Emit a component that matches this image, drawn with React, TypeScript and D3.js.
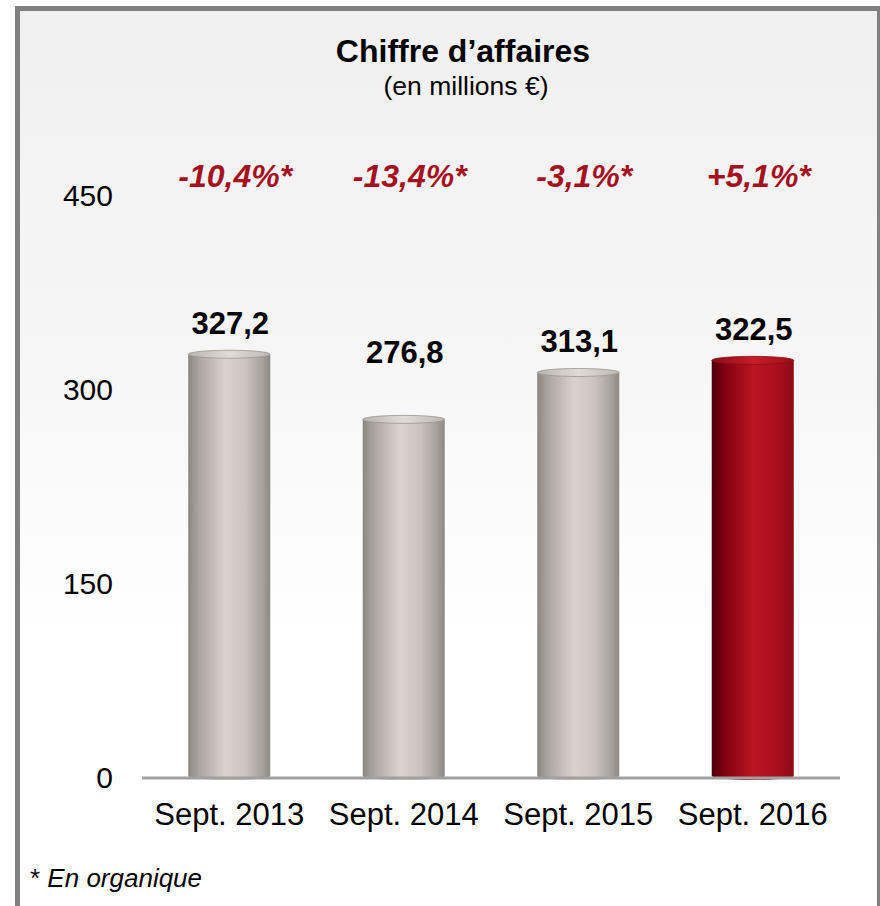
import React from "react";
import * as d3 from "d3";

const categories = ["Sept. 2013", "Sept. 2014", "Sept. 2015", "Sept. 2016"];
const values = [327.2, 276.8, 313.1, 322.5];
const valueLabels = ["327,2", "276,8", "313,1", "322,5"];
const growthLabels = ["-10,4%*", "-13,4%*", "-3,1%*", "+5,1%*"];
const yTicks = [0, 150, 300, 450];

const W = 880;
const H = 906;
const FONT = "'Liberation Sans', Arial, Helvetica, sans-serif";

export default function App() {
  const x = d3.scaleBand<string>().domain(categories).range([142, 840]).paddingInner(0.53).paddingOuter(0.265);
  const y = d3.scaleLinear().domain([0, 450]).range([777, 195.6]);
  const bw = x.bandwidth();
  const ry = 4;

  return (
    <div style={{ position: "absolute", left: 0, top: 0 }}>
      <svg width={W} height={H} style={{ display: "block" }}>
        <defs>
          <linearGradient id="bgv" x1="0" y1="11" x2="0" y2="640" gradientUnits="userSpaceOnUse">
            <stop offset="0" stopColor="#f0f0f0" />
            <stop offset="0.55" stopColor="#f6f6f6" />
            <stop offset="1" stopColor="#ffffff" />
          </linearGradient>
          <linearGradient id="gray" x1="0" y1="0" x2="1" y2="0">
            <stop offset="0" stopColor="#8c8681" />
            <stop offset="0.12" stopColor="#a9a39e" />
            <stop offset="0.45" stopColor="#dbd2cb" />
            <stop offset="0.7" stopColor="#cbc4be" />
            <stop offset="0.9" stopColor="#a7a19c" />
            <stop offset="1" stopColor="#8e8984" />
          </linearGradient>
          <linearGradient id="red" x1="0" y1="0" x2="1" y2="0">
            <stop offset="0" stopColor="#4a0008" />
            <stop offset="0.15" stopColor="#800010" />
            <stop offset="0.5" stopColor="#bb1522" />
            <stop offset="0.75" stopColor="#ae1020" />
            <stop offset="1" stopColor="#8f0a16" />
          </linearGradient>
          <linearGradient id="grayTop" x1="0" y1="0" x2="1" y2="0">
            <stop offset="0" stopColor="#b8b3ae" />
            <stop offset="0.5" stopColor="#e2dcd7" />
            <stop offset="1" stopColor="#bdb8b3" />
          </linearGradient>
          <linearGradient id="redTop" x1="0" y1="0" x2="1" y2="0">
            <stop offset="0" stopColor="#8a0a14" />
            <stop offset="0.5" stopColor="#c81d2a" />
            <stop offset="1" stopColor="#a10e1a" />
          </linearGradient>
        </defs>

        <rect x={0} y={0} width={W} height={H} fill="#ffffff" />
        <rect x={17.5} y={8.5} width={862} height={1000} fill="url(#bgv)" stroke="#808080" strokeWidth={5} />

        <text x={463} y={62} textAnchor="middle" fontFamily={FONT} fontWeight="bold" fontSize={32} fill="#000">
          Chiffre d’affaires
        </text>
        <text x={466} y={95} textAnchor="middle" fontFamily={FONT} fontSize={26.5} fill="#000">
          (en millions €)
        </text>

        {yTicks.map((t) => (
          <text key={t} x={113} y={y(t)} dy="0.35em" textAnchor="end" fontFamily={FONT} fontSize={30} fill="#000">
            {t}
          </text>
        ))}

        {categories.map((c, i) => {
          const x0 = x(c)!;
          const top = y(values[i]);
          const base = y(0) - 1;
          const isLast = i === categories.length - 1;
          const body = isLast ? "url(#red)" : "url(#gray)";
          const topFill = isLast ? "url(#redTop)" : "url(#grayTop)";
          const topStroke = isLast ? "#8a0c14" : "#9b9590";
          return (
            <g key={c}>
              <rect x={x0} y={top} width={bw} height={base - top} fill={body} />
              <ellipse cx={x0 + bw / 2} cy={base} rx={bw / 2} ry={ry} fill={body} />
              <ellipse cx={x0 + bw / 2} cy={top} rx={bw / 2} ry={ry} fill={topFill} stroke={topStroke} strokeWidth={0.8} />
            </g>
          );
        })}

        <line x1={142} x2={840} y1={778} y2={778} stroke="#a0a0a0" strokeWidth={3} />

        {categories.map((c, i) => (
          <text
            key={c + "v"}
            x={x(c)! + bw / 2 + 1}
            y={y(Math.max(values[i], 305)) - 20}
            textAnchor="middle"
            fontFamily={FONT}
            fontWeight="bold"
            fontSize={31}
            fill="#000"
          >
            {valueLabels[i]}
          </text>
        ))}

        {categories.map((c, i) => (
          <text
            key={c + "g"}
            x={x(c)! + bw / 2 + 6}
            y={187}
            textAnchor="middle"
            fontFamily={FONT}
            fontWeight="bold"
            fontStyle="italic"
            fontSize={32}
            fill="#a6111f"
          >
            {growthLabels[i]}
          </text>
        ))}

        {categories.map((c) => (
          <text key={c + "x"} x={x(c)! + bw / 2} y={825} textAnchor="middle" fontFamily={FONT} fontSize={31} fill="#000">
            {c}
          </text>
        ))}

        <text x={30} y={887} fontFamily={FONT} fontSize={26} fill="#000">
          *{" "}
          <tspan fontStyle="italic">En organique</tspan>
        </text>
      </svg>
    </div>
  );
}
